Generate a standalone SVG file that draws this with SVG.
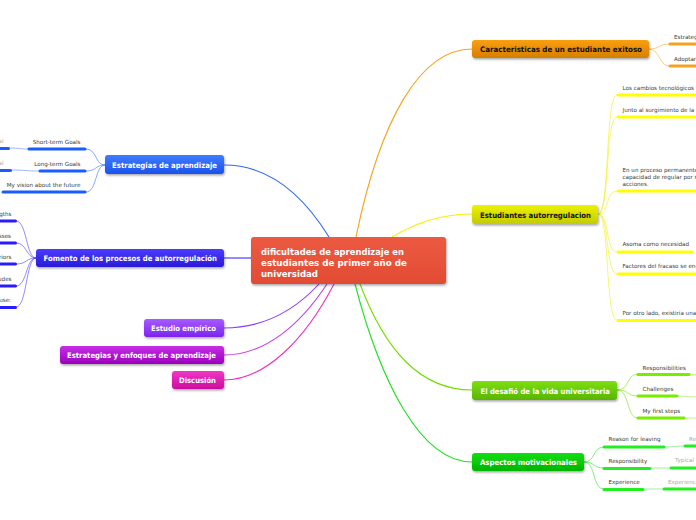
<svg xmlns="http://www.w3.org/2000/svg" width="696" height="520" viewBox="0 0 696 520">
<defs>
<filter id="sh" x="-10%" y="-20%" width="120%" height="150%"><feDropShadow dx="0.8" dy="1.5" stdDeviation="1" flood-color="#000" flood-opacity="0.35"/></filter>
<linearGradient id="gCenter" x1="0" y1="0" x2="0" y2="1"><stop offset="0" stop-color="#ec5a42"/><stop offset="1" stop-color="#e24c33"/></linearGradient>
<linearGradient id="gOrange" x1="0" y1="0" x2="0" y2="1"><stop offset="0" stop-color="#fa9f10"/><stop offset="1" stop-color="#d47f00"/></linearGradient>
<linearGradient id="gYellow" x1="0" y1="0" x2="0" y2="1"><stop offset="0" stop-color="#eef200"/><stop offset="1" stop-color="#c2cc00"/></linearGradient>
<linearGradient id="gGreen" x1="0" y1="0" x2="0" y2="1"><stop offset="0" stop-color="#7de012"/><stop offset="1" stop-color="#58b400"/></linearGradient>
<linearGradient id="gLime" x1="0" y1="0" x2="0" y2="1"><stop offset="0" stop-color="#12e012"/><stop offset="1" stop-color="#00b400"/></linearGradient>
<linearGradient id="gBlue" x1="0" y1="0" x2="0" y2="1"><stop offset="0" stop-color="#3f7cff"/><stop offset="1" stop-color="#1a52ee"/></linearGradient>
<linearGradient id="gIndigo" x1="0" y1="0" x2="0" y2="1"><stop offset="0" stop-color="#4a3cff"/><stop offset="1" stop-color="#2a1ad8"/></linearGradient>
<linearGradient id="gPurple" x1="0" y1="0" x2="0" y2="1"><stop offset="0" stop-color="#a55cff"/><stop offset="1" stop-color="#7e22ee"/></linearGradient>
<linearGradient id="gMagenta" x1="0" y1="0" x2="0" y2="1"><stop offset="0" stop-color="#c530e6"/><stop offset="1" stop-color="#9c00bc"/></linearGradient>
<linearGradient id="gPink" x1="0" y1="0" x2="0" y2="1"><stop offset="0" stop-color="#f038c6"/><stop offset="1" stop-color="#cc0c9e"/></linearGradient>
</defs>
<style>
.main{font-family:"DejaVu Sans","Verdana",sans-serif;font-weight:bold;font-size:7.6px}
.ctr{font-family:"DejaVu Sans","Verdana",sans-serif;font-weight:bold;font-size:8.6px;fill:#fff}
.w{fill:#fff}
.k{fill:#111}
.sub{font-family:"DejaVu Sans","Verdana",sans-serif;font-size:5.6px;fill:#3a3a3a}
.gray{font-family:"DejaVu Sans","Verdana",sans-serif;font-size:5.6px;fill:#aaa}
.c{fill:none;stroke-width:1.1}
.sc{fill:none;stroke-width:1;stroke-opacity:0.55}
.ul{fill:none;stroke-width:3;stroke-linecap:round}
.thin{fill:none;stroke-width:0.9;stroke-opacity:0.5}
</style>

<g id="connectors">
<path class="c" stroke="#f7a21e" d="M356,237 C380,120 420,49 472,49"/>
<path class="c" stroke="#f2f200" d="M392,237 C420,220 445,214 472,214"/>
<path class="c" stroke="#74dd00" d="M360,284 C385,350 420,390 472,390"/>
<path class="c" stroke="#1ee01e" d="M355,284 C380,380 420,462 472,462"/>
<path class="c" stroke="#2b64ff" d="M329,237 C300,190 265,165 224,165"/>
<path class="c" stroke="#3a2bff" d="M251,258 L224,258"/>
<path class="c" stroke="#8a38ff" d="M319,284 C295,310 265,328 224,328"/>
<path class="c" stroke="#c23de6" d="M327,284 C300,325 265,355 224,355"/>
<path class="c" stroke="#ee30c4" d="M334,284 C305,340 265,380 224,380"/>
<path class="sc" stroke="#f7a21e" d="M649,49 C660,49 659,44 669,44"/>
<path class="sc" stroke="#f7a21e" d="M649,49 C660,49 659,66 669,66"/>
<path class="sc" stroke="#eeee00" d="M598,214 C610,214 605,95 617,95"/>
<path class="sc" stroke="#eeee00" d="M598,214 C610,214 605,117 617,117"/>
<path class="sc" stroke="#eeee00" d="M598,214 C610,214 605,191 617,191"/>
<path class="sc" stroke="#eeee00" d="M598,214 C610,214 605,252 617,252"/>
<path class="sc" stroke="#eeee00" d="M598,214 C610,214 605,274 617,274"/>
<path class="sc" stroke="#eeee00" d="M598,214 C610,214 605,320 617,320"/>
<path class="sc" stroke="#74dd00" d="M617,390 C630,390 626,374 638,374"/>
<path class="sc" stroke="#74dd00" d="M617,390 C630,390 626,396 638,396"/>
<path class="sc" stroke="#74dd00" d="M617,390 C630,390 626,418 638,418"/>
<path class="sc" stroke="#1ee01e" d="M584,462 C596,462 592,447 604,447"/>
<path class="sc" stroke="#1ee01e" d="M584,462 C596,462 592,468 604,468"/>
<path class="sc" stroke="#1ee01e" d="M584,462 C596,462 592,489 604,489"/>
<path class="sc" stroke="#2b64ff" d="M105,165 C95,165 97,149 86,149"/>
<path class="sc" stroke="#2b64ff" d="M105,165 C95,165 97,171 86,171"/>
<path class="sc" stroke="#2b64ff" d="M105,165 C95,165 97,192 86,192"/>
<path class="sc" stroke="#3a2bff" d="M36,258 C26,258 27,221 16,221"/>
<path class="sc" stroke="#3a2bff" d="M36,258 C26,258 27,243 16,243"/>
<path class="sc" stroke="#3a2bff" d="M36,258 C26,258 27,264 16,264"/>
<path class="sc" stroke="#3a2bff" d="M36,258 C26,258 27,286 16,286"/>
<path class="sc" stroke="#3a2bff" d="M36,258 C26,258 27,307 16,307"/>
<path class="thin" stroke="#74dd00" d="M690,374 C693,374 693,375 696,375"/>
<path class="thin" stroke="#74dd00" d="M677,396 C686,396 688,397 696,397"/>
<path class="thin" stroke="#74dd00" d="M685,418 C690,418 691,418 696,418"/>
<path class="thin" stroke="#1ee01e" d="M665,447 C674,447 676,446 684,446"/>
<path class="thin" stroke="#1ee01e" d="M651,468 C660,468 662,468 671,468"/>
<path class="thin" stroke="#1ee01e" d="M644,489 C653,489 655,489 663,489"/>
<path class="thin" stroke="#2b64ff" d="M28,149 C19,149 19,148 9,148"/>
<path class="thin" stroke="#2b64ff" d="M39,171 C27,171 24,170 11,170"/>
</g>

<g id="center">
<rect x="251" y="237" width="195" height="47" rx="3" fill="url(#gCenter)" filter="url(#sh)"/>
<text class="ctr" x="261" y="254.5" textLength="143" lengthAdjust="spacingAndGlyphs">dificultades de aprendizaje en</text>
<text class="ctr" x="261" y="265.5" textLength="146" lengthAdjust="spacingAndGlyphs">estudiantes de primer año de</text>
<text class="ctr" x="261" y="276.5">universidad</text>
</g>

<g id="n-caracteristicas">
<rect x="472" y="40" width="177" height="18" rx="3" fill="url(#gOrange)" filter="url(#sh)"/>
<text class="main k" x="480" y="52" textLength="162" lengthAdjust="spacingAndGlyphs">Caracteristicas de un estudiante exitoso</text>
</g>
<g id="n-car-1"><text class="sub" x="674" y="38.5">Estrategias</text><path class="ul" stroke="#f7a21e" d="M670,44 L698,44"/></g>
<g id="n-car-2"><text class="sub" x="674" y="60.5">Adoptar</text><path class="ul" stroke="#f7a21e" d="M670,66 L698,66"/></g>

<g id="n-autorregulacion">
<rect x="472" y="205" width="126" height="19" rx="3" fill="url(#gYellow)" filter="url(#sh)"/>
<text class="main k" x="480" y="217.5" textLength="111" lengthAdjust="spacingAndGlyphs">Estudiantes autorregulacion</text>
</g>
<g id="n-aut-1"><text class="sub" x="622.5" y="89.5">Los cambios tecnológicos y</text><path class="ul" stroke="#ffff00" d="M618,95 L698,95"/></g>
<g id="n-aut-2"><text class="sub" x="622.5" y="111.5">Junto al surgimiento de la</text><path class="ul" stroke="#ffff00" d="M618,117 L698,117"/></g>
<g id="n-aut-3"><text class="sub" x="622.5" y="172">En un proceso permanente</text><text class="sub" x="622.5" y="179">capacidad de regular por s</text><text class="sub" x="622.5" y="186">acciones.</text><path class="ul" stroke="#ffff00" d="M618,191 L698,191"/></g>
<g id="n-aut-4"><text class="sub" x="622.5" y="246">Asoma como necesidad</text><path class="ul" stroke="#ffff00" d="M618,252 L692,252"/></g>
<g id="n-aut-5"><text class="sub" x="622.5" y="268">Factores del fracaso se enc</text><path class="ul" stroke="#ffff00" d="M618,274 L698,274"/></g>
<g id="n-aut-6"><text class="sub" x="622.5" y="315">Por otro lado, existiría una</text><path class="ul" stroke="#ffff00" d="M618,320.5 L698,320.5"/></g>

<g id="n-desafio">
<rect x="472" y="381" width="145" height="19" rx="3" fill="url(#gGreen)" filter="url(#sh)"/>
<text class="main w" x="480.5" y="393.5" textLength="129.5" lengthAdjust="spacingAndGlyphs">El desafió de la vida universitaria</text>
</g>
<g id="n-des-1"><text class="sub" x="642.5" y="369.5">Responsibilities</text><path class="ul" stroke="#77ee00" d="M638,374.5 L689,374.5"/></g>
<g id="n-des-2"><text class="sub" x="642.5" y="391">Challenges</text><path class="ul" stroke="#77ee00" d="M638,396 L677,396"/></g>
<g id="n-des-3"><text class="sub" x="642.5" y="412.5">My first steps</text><path class="ul" stroke="#77ee00" d="M638,418 L684,418"/></g>

<g id="n-motivacionales">
<rect x="472" y="453" width="112" height="18" rx="3" fill="url(#gLime)" filter="url(#sh)"/>
<text class="main w" x="480" y="465" textLength="97" lengthAdjust="spacingAndGlyphs">Aspectos motivacionales</text>
</g>
<g id="n-mot-1"><text class="sub" x="608.5" y="441">Reason for leaving</text><path class="ul" stroke="#22ee22" d="M604,447 L664,447"/></g>
<g id="n-mot-1a"><text class="gray" x="689" y="440.5">Re</text><path class="ul" stroke="#22ee22" d="M685,446 L698,446"/></g>
<g id="n-mot-2"><text class="sub" x="608.5" y="462.5">Responsibility</text><path class="ul" stroke="#22ee22" d="M604,468.5 L650,468.5"/></g>
<g id="n-mot-2a"><text class="gray" x="675" y="462">Typical -</text><path class="ul" stroke="#22ee22" d="M671,468 L698,468"/></g>
<g id="n-mot-3"><text class="sub" x="608.5" y="484">Experience</text><path class="ul" stroke="#22ee22" d="M604,489.5 L643,489.5"/></g>
<g id="n-mot-3a"><text class="gray" x="668" y="483.5">Experience</text><path class="ul" stroke="#22ee22" d="M664,489 L698,489"/></g>

<g id="n-estrategias">
<rect x="105" y="155" width="119" height="19" rx="3" fill="url(#gBlue)" filter="url(#sh)"/>
<text class="main w" x="112" y="167.5" textLength="105" lengthAdjust="spacingAndGlyphs">Estrategias de aprendizaje</text>
</g>
<g id="n-est-1"><text class="sub" x="80.5" y="143.5" text-anchor="end">Short-term Goals</text><path class="ul" stroke="#1a5cff" d="M29,149 L85,149"/></g>
<g id="n-est-1a"><text class="gray" x="3.5" y="143" text-anchor="end">al</text><path class="ul" stroke="#1a5cff" d="M-2,148.5 L8.5,148.5"/></g>
<g id="n-est-2"><text class="sub" x="80.5" y="165.5" text-anchor="end">Long-term Goals</text><path class="ul" stroke="#1a5cff" d="M40,171 L85,171"/></g>
<g id="n-est-2a"><text class="gray" x="3.5" y="165" text-anchor="end">al</text><path class="ul" stroke="#1a5cff" d="M-2,170.5 L10.5,170.5"/></g>
<g id="n-est-3"><text class="sub" x="80.5" y="186.5" text-anchor="end">My vision about the future</text><path class="ul" stroke="#1a5cff" d="M3,192 L85,192"/></g>

<g id="n-fomento">
<rect x="36" y="249" width="188" height="18" rx="3" fill="url(#gIndigo)" filter="url(#sh)"/>
<text class="main w" x="43.5" y="261" textLength="173.5" lengthAdjust="spacingAndGlyphs">Fomento de los procesos de autorregulación</text>
</g>
<g id="n-fom-1"><text class="sub" x="11.5" y="215.5" text-anchor="end">gths</text><path class="ul" stroke="#2a1aff" d="M-2,221 L15.5,221"/></g>
<g id="n-fom-2"><text class="sub" x="11" y="237.5" text-anchor="end">sses</text><path class="ul" stroke="#2a1aff" d="M-2,243 L15.5,243"/></g>
<g id="n-fom-3"><text class="sub" x="11.5" y="259" text-anchor="end">riors</text><path class="ul" stroke="#2a1aff" d="M-2,264 L15.5,264"/></g>
<g id="n-fom-4"><text class="sub" x="11.5" y="280.5" text-anchor="end">udes</text><path class="ul" stroke="#2a1aff" d="M-2,286 L15.5,286"/></g>
<g id="n-fom-5"><text class="sub" x="11" y="302" text-anchor="end">use:</text><path class="ul" stroke="#2a1aff" d="M-2,307.5 L15.5,307.5"/></g>

<g id="n-empirico">
<rect x="144" y="319" width="80" height="18" rx="3" fill="url(#gPurple)" filter="url(#sh)"/>
<text class="main w" x="151" y="331" textLength="65" lengthAdjust="spacingAndGlyphs">Estudio empírico</text>
</g>
<g id="n-enfoques">
<rect x="60" y="346" width="164" height="18" rx="3" fill="url(#gMagenta)" filter="url(#sh)"/>
<text class="main w" x="67" y="358" textLength="149" lengthAdjust="spacingAndGlyphs">Estrategias y enfoques de aprendizaje</text>
</g>
<g id="n-discusion">
<rect x="172" y="371" width="52" height="18" rx="3" fill="url(#gPink)" filter="url(#sh)"/>
<text class="main w" x="179" y="383" textLength="37" lengthAdjust="spacingAndGlyphs">Discusión</text>
</g>
</svg>
